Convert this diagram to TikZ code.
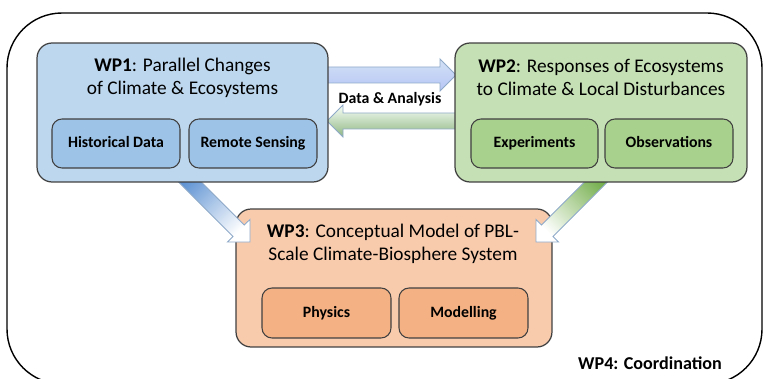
\documentclass[tikz,border=0pt]{standalone}
\usepackage{fontspec}
\setmainfont{Carlito}
\begin{document}
\begin{tikzpicture}[x=0.02cm,y=-0.02cm,
  wpbox/.style={draw=black!75, line width=0.7pt, rounded corners=0.3cm, inner sep=0pt},
  subbox/.style={draw=black!75, line width=0.6pt, rounded corners=0.2cm, inner sep=0pt,
    minimum height=0.98cm, text height=1.45ex, text depth=0.45ex, font=\fontsize{9}{11}\selectfont\bfseries},
  titletext/.style={align=center, font=\fontsize{11}{13}\selectfont, inner sep=0pt},
  arrowline/.style={draw=arrowedge, line width=0.5pt}
]
\definecolor{wpablue}{HTML}{BDD7EE}
\definecolor{wpasub}{HTML}{9DC3E6}
\definecolor{wpbgreen}{HTML}{C5E0B4}
\definecolor{wpbsub}{HTML}{A9D18E}
\definecolor{wpcorange}{HTML}{F8CBAD}
\definecolor{wpcsub}{HTML}{F4B183}
\definecolor{arrowedge}{HTML}{8EA9C8}
\definecolor{bluedark}{HTML}{5F93D3}
\definecolor{greendark}{HTML}{74AE4C}
\useasboundingbox (0,0) rectangle (766,378);
\clip (0,0) rectangle (766,378);
% outer WP4 frame
\draw[black, line width=0.8pt, rounded corners=1.1cm] (7,13) rectangle (762,384);
\node[font=\fontsize{10.3}{12}\selectfont\bfseries, inner sep=0pt] (wp4) at (650,363) {WP4: Coordination};
% horizontal arrows (behind WP boxes)
\path[arrowline, top color=blue!4!wpablue!60, bottom color=wpablue!80!blue!70] (320,67) -- (440,67) -- (440,59) -- (456,75) -- (440,91) -- (440,83) -- (320,83) -- cycle;
\path[arrowline, top color=green!3!white, bottom color=wpbgreen!90!green!80!black] (470,113) -- (343,113) -- (343,105) -- (327,121) -- (343,137) -- (343,129) -- (470,129) -- cycle;
% WP3
\node[wpbox, fill=wpcorange, minimum width=6.32cm, minimum height=2.76cm] (wp3) at (394,278) {};
% diagonal arrows
\path[arrowline, left color=bluedark, right color=white, shading angle=45] (187.7,168.3) -- (244.3,225.0) -- (250,219.4) -- (250,242) -- (227.4,242) -- (233.0,236.4) -- (176.3,179.7) -- cycle;
\path[arrowline, left color=greendark, right color=white, shading angle=-45] (598.3,168.3) -- (541.6,225.0) -- (536,219.4) -- (536,242) -- (558.6,242) -- (553.0,236.4) -- (609.7,179.7) -- cycle;
% WP1 and WP2
\node[wpbox, fill=wpablue, minimum width=5.82cm, minimum height=2.78cm] (wp1) at (182.5,112.5) {};
\node[wpbox, fill=wpbgreen, minimum width=5.84cm, minimum height=2.78cm] (wp2) at (601,112.5) {};
% titles
\node[titletext] (t1) at (182.5,77.5) {\textbf{WP1}: Parallel Changes\\of Climate \& Ecosystems};
\node[titletext] (t2) at (601,77.5) {\textbf{WP2}: Responses of Ecosystems\\to Climate \& Local Disturbances};
\node[titletext] (t3) at (393,243.5) {\textbf{WP3}: Conceptual Model of PBL-\\Scale Climate-Biosphere System};
\node[font=\fontsize{9}{11}\selectfont\bfseries, inner sep=0pt] (da) at (390,99) {Data \& Analysis};
% sub boxes
\node[subbox, fill=wpasub, minimum width=2.56cm] (hd) at (116,143.5) {Historical Data};
\node[subbox, fill=wpasub, minimum width=2.56cm] (rs) at (253,143.5) {Remote Sensing};
\node[subbox, fill=wpbsub, minimum width=2.54cm] (ex) at (534.5,143.5) {Experiments};
\node[subbox, fill=wpbsub, minimum width=2.56cm] (ob) at (669,143.5) {Observations};
\node[subbox, fill=wpcsub, minimum width=2.58cm, minimum height=1.0cm] (ph) at (326.5,313) {Physics};
\node[subbox, fill=wpcsub, minimum width=2.58cm, minimum height=1.0cm] (mo) at (463.5,313) {Modelling};
\end{tikzpicture}
\end{document}
